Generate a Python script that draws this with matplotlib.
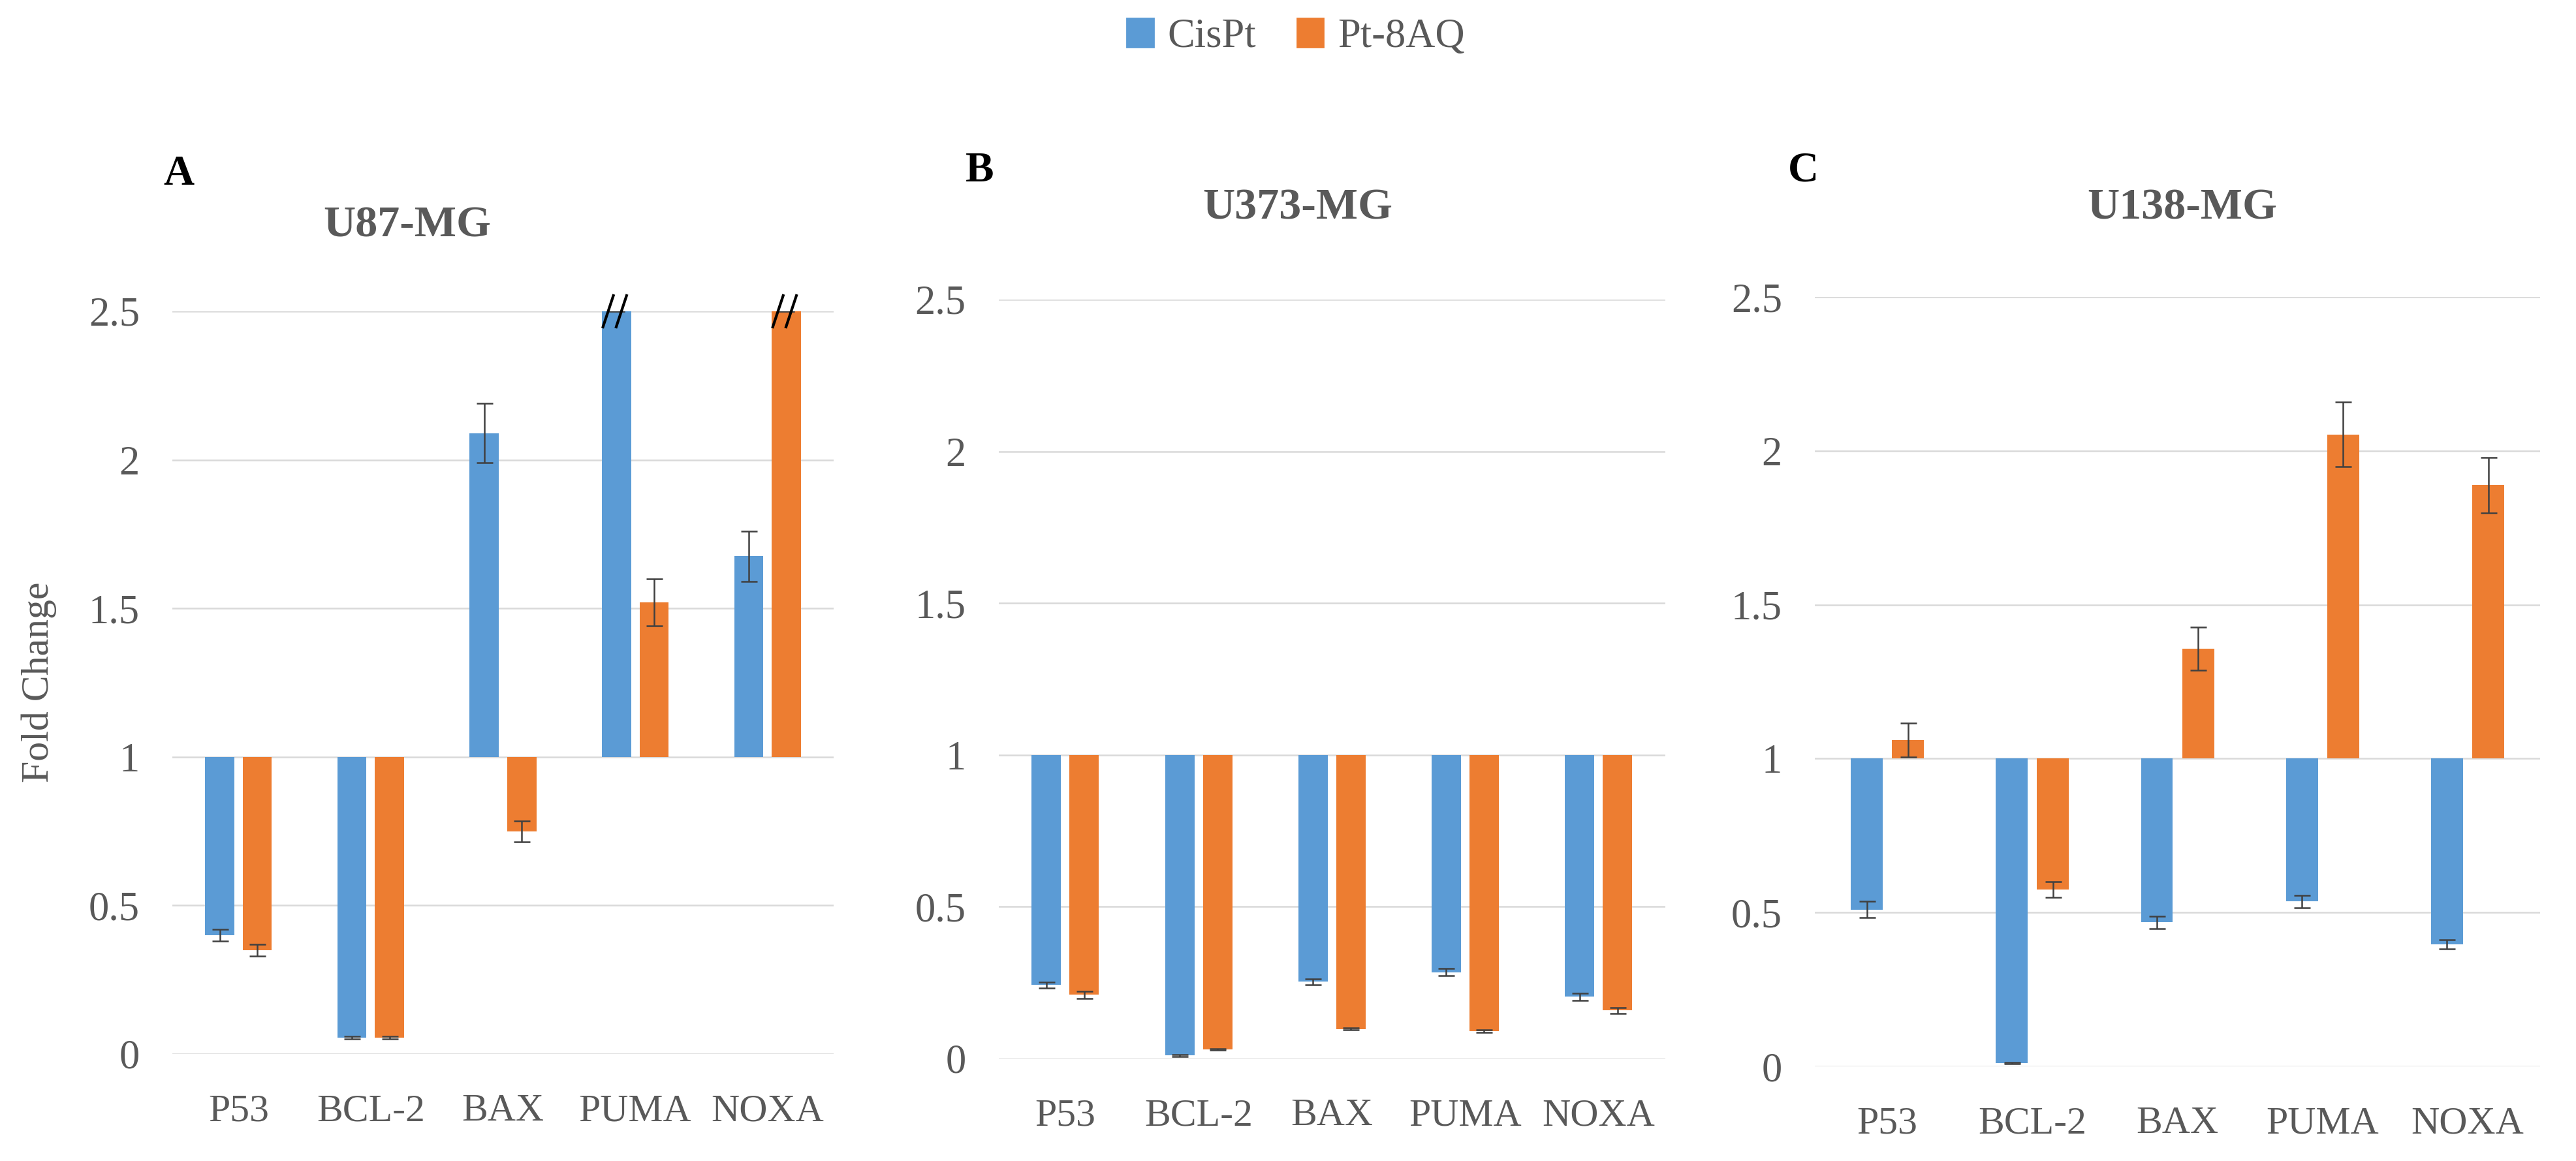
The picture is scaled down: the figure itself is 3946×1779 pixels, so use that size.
import matplotlib
matplotlib.use('Agg')
import matplotlib.pyplot as plt
from matplotlib.patches import Patch
import numpy as np

plt.rcParams['font.family'] = ['Liberation Serif', 'DejaVu Serif']

#genes on the x axis
genes = ['P53', 'BCL-2', 'BAX', 'PUMA', 'NOXA']

#fold change values (2.5 = bar cut at the top of the axis)
u87_cispt = [0.40, 0.055, 2.09, 2.5, 1.675]
u87_cispt_err = [0.02, 0.004, 0.10, 0, 0.085]
u87_pt8aq = [0.35, 0.055, 0.75, 1.52, 2.5]
u87_pt8aq_err = [0.02, 0.004, 0.035, 0.08, 0]

u373_cispt = [0.242, 0.01, 0.253, 0.284, 0.203]
u373_cispt_err = [0.01, 0.003, 0.01, 0.012, 0.012]
u373_pt8aq = [0.21, 0.03, 0.097, 0.09, 0.158]
u373_pt8aq_err = [0.012, 0.003, 0.003, 0.005, 0.01]

u138_cispt = [0.51, 0.01, 0.468, 0.536, 0.397]
u138_cispt_err = [0.027, 0.002, 0.02, 0.02, 0.015]
u138_pt8aq = [1.06, 0.575, 1.357, 2.053, 1.889]
u138_pt8aq_err = [0.055, 0.025, 0.07, 0.105, 0.09]

panels = [
    ('A', 'U87-MG', u87_cispt, u87_cispt_err, u87_pt8aq, u87_pt8aq_err),
    ('B', 'U373-MG', u373_cispt, u373_cispt_err, u373_pt8aq, u373_pt8aq_err),
    ('C', 'U138-MG', u138_cispt, u138_cispt_err, u138_pt8aq, u138_pt8aq_err),
]

blue = '#5B9BD5'
orange = '#ED7D31'
grey = '#595959'
ymax = 2.5

fig = plt.figure(figsize=(19.73, 8.895), dpi=200)

#axes boxes [left, bottom, width, height] in figure fractions
boxes = [[0.0669, 0.0922, 0.2567, 0.6397],
         [0.3877, 0.0883, 0.2587, 0.6537],
         [0.7045, 0.0815, 0.2816, 0.6627]]
letter_pos = [(0.0634, 0.850), (0.3748, 0.853), (0.6941, 0.853)]
title_pos = [(0.1581, 0.8055), (0.5038, 0.8207), (0.8472, 0.8207)]

x = np.arange(len(genes))
w = 0.22
off = 0.142

for i, (letter, title, cis, cis_err, pt, pt_err) in enumerate(panels):
    ax = fig.add_axes(boxes[i])
    cis = np.array(cis)
    pt = np.array(pt)
    ax.bar(x - off, cis - 1, w, bottom=1, color=blue, zorder=2)
    ax.bar(x + off, pt - 1, w, bottom=1, color=orange, zorder=2)
    ax.errorbar(x - off, cis, yerr=cis_err, fmt='none', ecolor='#404040',
                elinewidth=0.9, capsize=4.5, capthick=0.9, zorder=3)
    ax.errorbar(x + off, pt, yerr=pt_err, fmt='none', ecolor='#404040',
                elinewidth=0.9, capsize=4.5, capthick=0.9, zorder=3)

    #break marks (//) on bars running past the axis top
    for xs, vals in [(x - off, cis), (x + off, pt)]:
        for xi, v in zip(xs, vals):
            if v >= ymax:
                left = xi - w / 2
                for s in [0.005, 0.105]:
                    ax.plot([left + s, left + s + 0.085], [ymax - 0.057, ymax + 0.057],
                            color='black', lw=1.5, solid_capstyle='butt',
                            clip_on=False, zorder=4)

    ax.set_xlim(-0.5, len(genes) - 0.5)
    ax.set_ylim(0, ymax)
    ax.set_yticks([0, 0.5, 1, 1.5, 2, 2.5])
    ax.set_yticklabels(['0', '0.5', '1', '1.5', '2', '2.5'])
    ax.set_xticks(x)
    ax.set_xticklabels(genes)
    ax.tick_params(axis='both', length=0, colors=grey)
    ax.tick_params(axis='y', labelsize=22.5, pad=18)
    ax.tick_params(axis='x', labelsize=21.5, pad=22)
    ax.grid(axis='y', color='#D9D9D9', linewidth=0.9, zorder=0)
    ax.set_axisbelow(True)
    for s in ax.spines.values():
        s.set_visible(False)

    fig.text(letter_pos[i][0], letter_pos[i][1], letter, fontsize=23.5,
             fontweight='bold', color='black', ha='left', va='center')
    fig.text(title_pos[i][0], title_pos[i][1], title, fontsize=24.5,
             fontweight='bold', color=grey, ha='center', va='center')

fig.text(0.0152, 0.4126, 'Fold Change', rotation=90, fontsize=21.5,
         color=grey, ha='center', va='center')

handles = [Patch(color=blue, label='CisPt'), Patch(color=orange, label='Pt-8AQ')]
leg = fig.legend(handles=handles, loc='center', bbox_to_anchor=(0.503, 0.968),
                 ncol=2, frameon=False, fontsize=22.5, handlelength=0.65,
                 handleheight=0.7, handletextpad=0.35, columnspacing=1.0)
for t in leg.get_texts():
    t.set_color(grey)

fig.savefig('out.png', dpi=200)
